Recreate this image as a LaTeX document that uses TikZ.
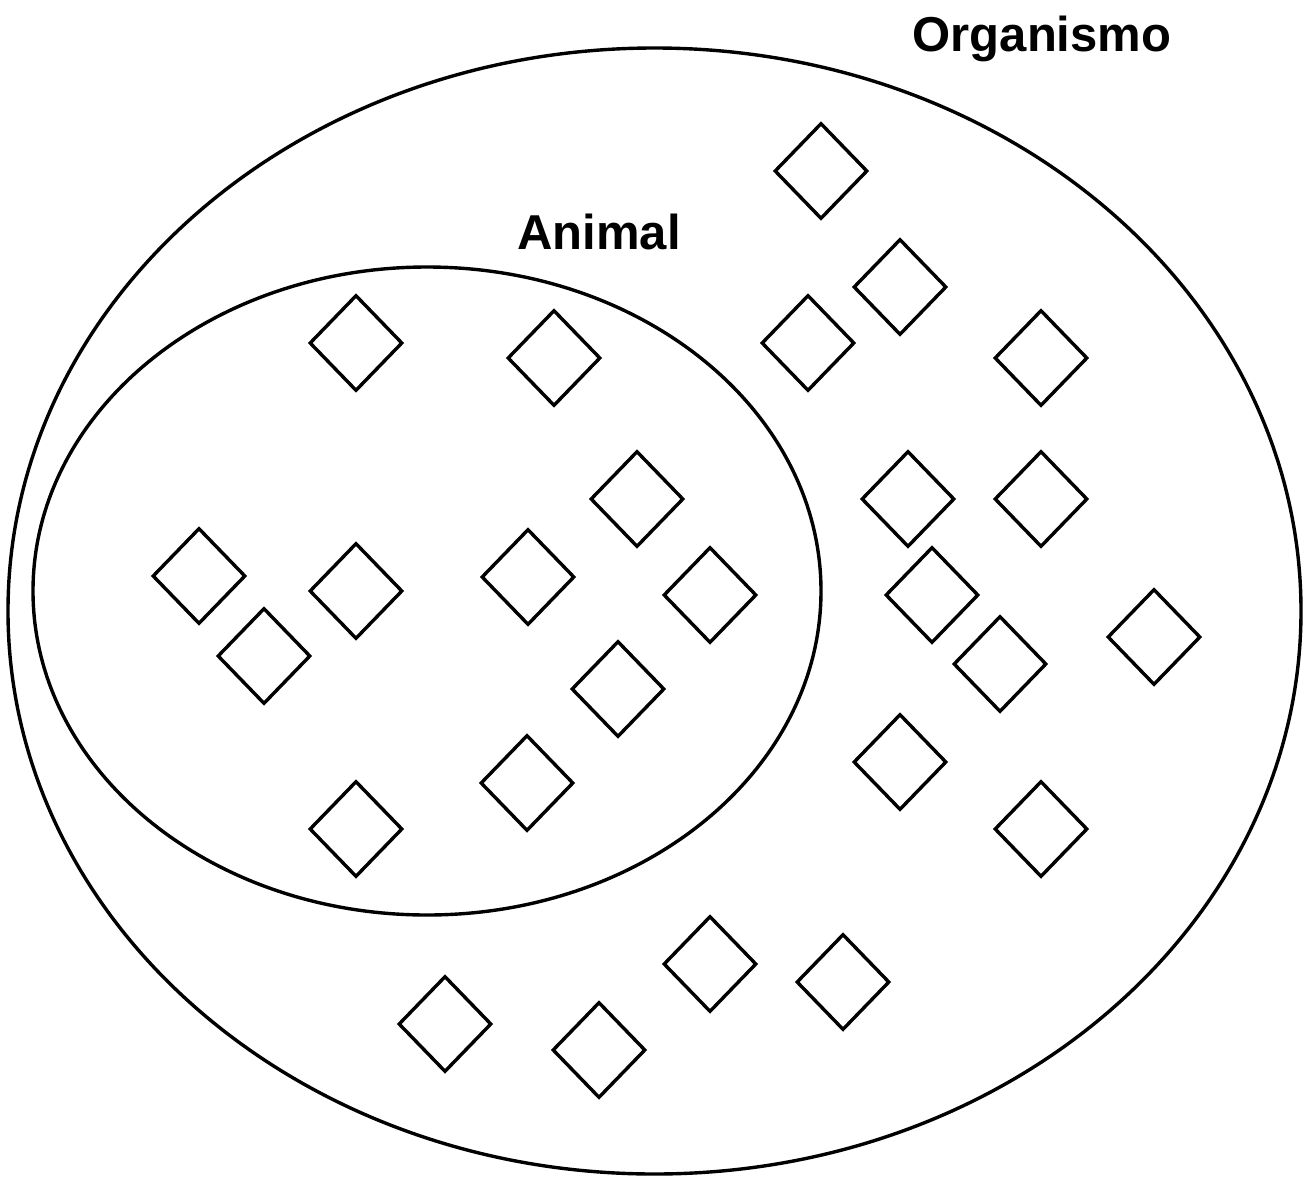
\documentclass[tikz,border=0pt]{standalone}
\usepackage{fontspec}
\setmainfont{Liberation Sans}
\usetikzlibrary{shapes.geometric}
\begin{document}
\begin{tikzpicture}[x=1pt,y=-1pt,line width=3.4pt,
  dia/.style={draw,diamond,inner sep=0pt,minimum width=93pt,minimum height=96pt,line width=3.4pt},
  lbl/.style={font=\fontsize{49}{57}\selectfont\bfseries,inner sep=0pt}]
\useasboundingbox (0,0) rectangle (1309,1184);
\node[draw,ellipse,inner sep=0pt,minimum width=1293pt,minimum height=1126pt] (org) at (654.5,611) {};
\node[draw,ellipse,inner sep=0pt,minimum width=788pt,minimum height=648pt] (ani) at (427,591) {};
\node[lbl] (torg) at (1042,39) {Organismo};
\node[lbl] (tani) at (599,232) {Animal};
% outer region
\node[dia] (d1) at (821,171) {};
\node[dia] (d2) at (900,287) {};
\node[dia] (d3) at (808,343) {};
\node[dia] (d4) at (1041,358) {};
\node[dia] (d5) at (908,499) {};
\node[dia] (d6) at (1041,499) {};
\node[dia] (d7) at (932,595) {};
\node[dia] (d8) at (1000,664) {};
\node[dia] (d9) at (1154,637) {};
\node[dia] (d10) at (900,762) {};
\node[dia] (d11) at (1041,829) {};
\node[dia] (d12) at (710,964) {};
\node[dia] (d13) at (843,982) {};
\node[dia] (d14) at (445,1024) {};
\node[dia] (d15) at (599,1050) {};
% inner region
\node[dia] (d16) at (356,343) {};
\node[dia] (d17) at (554,358) {};
\node[dia] (d18) at (637,499) {};
\node[dia] (d19) at (199,576) {};
\node[dia] (d20) at (356,591) {};
\node[dia] (d21) at (528,577) {};
\node[dia] (d22) at (710,595) {};
\node[dia] (d23) at (264,656) {};
\node[dia] (d24) at (618,689) {};
\node[dia] (d25) at (527,783) {};
\node[dia] (d26) at (356,829) {};
\end{tikzpicture}
\end{document}
